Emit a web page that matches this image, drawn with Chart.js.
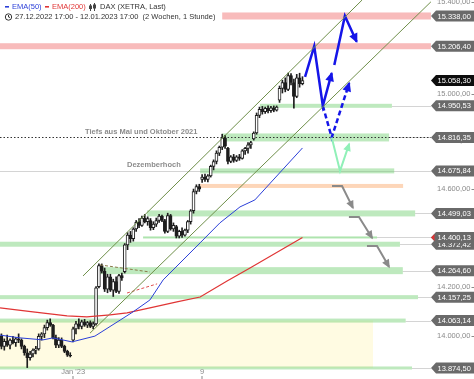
<!DOCTYPE html>
<html><head><meta charset="utf-8">
<script src="https://cdn.jsdelivr.net/npm/chart.js@4.4.1/dist/chart.umd.min.js"></script>
<style>html,body{margin:0;padding:0;background:#fff;overflow:hidden}#wrap{width:474px;height:379px;position:relative}</style>
</head><body><div id="wrap"><canvas id="c" width="474" height="379"></canvas></div>
<script>
// ---- hourly candles 27.12.2022 17:00 - 12.01.2023 17:00 (index 25 = 02.01. 09:00, index 70 = 09.01. 09:00)
const OPEN  = [14000,13960,13980,13965,13985,13975,13990,13985,13960,13935,13915,13930,13945,13950,14000,14010,14035,14055,14045,13995,13965,13985,13960,13940,13925,
               13985,14030,14050,14040,14058,14045,14055,14040,14050,14200,14285,14262,14190,14240,14185,14220,14180,14245,
               14260,14370,14410,14395,14435,14462,14450,14480,14465,14470,14440,14455,14470,14488,14470,14425,14490,14435,
               14445,14405,14425,14410,14430,14465,14510,14590,14610,
               14640,14650,14640,14655,14695,14715,14750,14775,14815,14770,14715,14735,14720,14735,14728,14760,14770,14785,
               14810,14835,14910,14935,14925,14940,14930,14942,14932,14975,15025,15050,15020,15080,15050,14990,15070,15045];
const HIGH  = [14010,13990,14005,13990,14000,13995,14010,13990,13965,13950,13940,13950,13960,14010,14015,14045,14065,14070,14048,14005,13995,13994,13965,13945,13935,
               14037,14060,14070,14065,14068,14060,14062,14058,14200,14292,14292,14275,14250,14250,14230,14240,14250,14255,
               14375,14420,14425,14440,14470,14478,14488,14495,14485,14478,14465,14480,14495,14492,14475,14500,14495,14460,
               14450,14430,14440,14435,14470,14515,14600,14618,14620,
               14660,14662,14660,14700,14722,14760,14780,14830,14825,14775,14740,14745,14740,14745,14765,14775,14795,14800,
               14840,14920,14945,14948,14945,14950,14948,14950,14950,15035,15060,15070,15090,15088,15065,15085,15090,15075];
const LOW   = [13950,13945,13960,13950,13970,13960,13975,13950,13925,13876,13905,13918,13930,13945,13985,13995,14025,14040,13990,13955,13955,13955,13935,13920,13918,
               13978,14010,14030,14030,14040,14035,14035,14030,14045,14195,14255,14180,14175,14180,14160,14175,14172,14225,
               14255,14350,14380,14385,14425,14440,14445,14460,14450,14430,14432,14445,14462,14465,14418,14420,14430,14425,
               14398,14398,14400,14405,14420,14455,14500,14580,14590,
               14628,14632,14630,14650,14680,14705,14740,14765,14770,14705,14710,14712,14715,14720,14725,14745,14750,14770,
               14805,14830,14900,14915,14918,14920,14922,14925,14928,14965,15005,15010,15015,15040,14940,14985,15030,15040];
const CLOSE = [13960,13980,13965,13985,13975,13990,13985,13960,13935,13915,13930,13945,13950,14000,14010,14035,14055,14045,13995,13965,13985,13960,13940,13925,13922,
               14030,14050,14040,14058,14045,14055,14040,14050,14195,14285,14262,14190,14240,14185,14220,14180,14245,14235,
               14370,14410,14395,14435,14462,14450,14480,14465,14478,14440,14455,14470,14488,14470,14425,14490,14435,14450,
               14405,14425,14410,14430,14465,14510,14590,14610,14600,
               14650,14640,14655,14695,14715,14750,14775,14815,14780,14715,14735,14720,14735,14728,14760,14770,14785,14795,
               14835,14910,14935,14925,14940,14930,14942,14932,14945,15025,15050,15020,15080,15050,14990,15070,15045,15058.30];

// ---- moving averages (candle index, value)
const EMA50_X  = [-0.5, 6.5, 14.5, 18, 24.6, 32.6, 41.4, 45.9, 51.8, 56.4, 69.3, 76.2, 83.2, 88.4, 105];
const EMA50_Y  = [14005,13994,13986,13994,13978,14001,14065,14098,14146,14227,14378,14460,14526,14555,14772];
const EMA200_X = [-0.5, 11, 22.9, 29.8, 37.9, 43.8, 51.8, 61.2, 69.3, 78.7, 86.7, 105];
const EMA200_Y = [14114,14098,14082,14078,14086,14094,14114,14138,14158,14223,14275,14400.13];

// ---- trend channel and drawings (candle index, price)
const CHANNEL_UP   = [[28.45,14243],[125.8,15408]];
const CHANNEL_LOW  = [[30.9,14013],[149.8,15400]];
const FLAG_TOP     = [[34.4,14288],[51.8,14259]];
const EMA_DASH     = [[43.8,14174],[54.3,14211]];
const PATH_BLUE_1  = [[105.9,15074],[109.1,15206.4],[112.1,14950.53],[115.2,15090]];
const PATH_BLUE_2  = [[116.1,15125],[119.8,15338],[123.9,15226]];
const PATH_DASHED  = [[112.1,14950.53],[115.2,14816.35],[121.3,15047]];
const PATH_GREEN   = [[115.2,14816.35],[118.1,14675.84],[121.3,14789]];
const PATH_GRAY_1  = [[115.3,14613],[118.8,14613],[122.6,14522]];
const PATH_GRAY_2  = [[121.2,14484],[124.7,14484],[129.3,14398]];
const PATH_GRAY_3  = [[127.5,14365],[131,14365],[135.2,14280]];

// ---- horizontal zones
const LEVELS     = [15338.00,15206.40,14950.53,14816.35,14675.84,14613.00,14499.03,14400.13,14372.42,14264.60,14157.25,14063.14,13874.50];
const LEVEL_KIND = ['res','res','sup','sup','sup','orange','sup','supthin','sup','sup','sup','sup','sup'];
const LEVEL_FROM = [77,-0.5,90.2,76.9,69.3,69.3,50.8,49.4,-0.5,34.4,-0.5,-0.5,-0.5];
const LEVEL_TO   = [149.8,149.8,136.2,135.2,137,140.1,144.3,131,139,140,145.3,141,143.2];
const ZONE_LOW = 13874.50, ZONE_HIGH = 14063.14, ZONE_TO = 129.6;
const TEXT_LOW  = 'Tiefs aus Mai und Oktober 2021';
const TEXT_DEC  = 'Dezemberhoch';

// ---- axis labels
const PRICE_LABELS = [15338.00,15206.40,15058.30,14950.53,14816.35,14675.84,14499.03,14372.42,14400.13,14264.60,14157.25,14063.14,13874.50];
const LAST_PRICE = 15058.30, EMA200_LAST = 14400.13;
const Y_TICKS = [15400,15200,15000,14800,14600,14400,14200,14000];
const X_TICK_POS = [25, 70];
const X_TICK_TEXT = ["Jan '23", "9"];

const FONT = '"Liberation Sans", Arial, sans-serif';
function fmt(v){ const s=v.toFixed(2).split('.'); return s[0].replace(/\B(?=(\d{3})+(?!\d))/g,'.')+','+s[1]; }
const pts = a => a.map(p => ({x:p[0], y:p[1]}));
const IDX = OPEN.map((_,i)=>i);

function line(data, color, width, extra){
  return Object.assign({type:'line', data, borderColor:color, borderWidth:width, pointRadius:0, tension:0, fill:false, order:1}, extra||{});
}

const bandPlugin = {
  id:'bands',
  beforeDatasetsDraw(chart){
    const {ctx, chartArea:ca, scales:{x,y}} = chart;
    ctx.save();
    ctx.beginPath(); ctx.rect(ca.left, ca.top, ca.right-ca.left, ca.bottom-ca.top); ctx.clip();
    ctx.fillStyle = '#fffbe2';
    const zt = y.getPixelForValue(ZONE_HIGH), zb = y.getPixelForValue(ZONE_LOW);
    ctx.fillRect(x.getPixelForValue(-0.5), zt, x.getPixelForValue(ZONE_TO)-x.getPixelForValue(-0.5), zb-zt);
    const C = {res:'rgba(244,145,145,0.62)', sup:'rgba(120,210,120,0.48)', orange:'rgba(252,196,155,0.7)', supthin:'rgba(120,210,120,0.6)'};
    const TH = [7,6,4,8,5,4,6,2,5,7,4,4,3];
    LEVELS.forEach((v,k)=>{
      const py = y.getPixelForValue(v);
      const x0 = x.getPixelForValue(LEVEL_FROM[k]), x1 = x.getPixelForValue(LEVEL_TO[k]);
      ctx.fillStyle = '#d4d4d4';
      if (k===4) ctx.fillRect(ca.left, Math.round(py), ca.right-ca.left, 1);
      else if (LEVEL_KIND[k] !== 'orange') ctx.fillRect(x1, Math.round(py), ca.right-x1, 1);
      ctx.fillStyle = C[LEVEL_KIND[k]];
      const h = TH[k];
      ctx.fillRect(x0, py-h/2, x1-x0, h);
    });
    const pd = Math.round(y.getPixelForValue(14816.35))+0.5;
    ctx.strokeStyle = '#333'; ctx.lineWidth = 1.2; ctx.setLineDash([1.5,2]);
    ctx.beginPath(); ctx.moveTo(ca.left, pd); ctx.lineTo(ca.right, pd); ctx.stroke();
    ctx.setLineDash([]);
    ctx.font = 'bold 7.5px '+FONT; ctx.fillStyle = '#8c8c8c'; ctx.textBaseline='middle'; ctx.textAlign='left';
    ctx.fillText(TEXT_LOW, 85, pd-6);
    ctx.fillText(TEXT_DEC, 127, y.getPixelForValue(14675.84)-5.5);
    ctx.restore();
  }
};

const overlayPlugin = {
  id:'overlay',
  afterDatasetsDraw(chart){
    const ctx = chart.ctx;
    chart.data.datasets.forEach((ds,k)=>{
      if(!ds.arrowHead) return;
      const d = chart.getDatasetMeta(k).data;
      const a = d[d.length-2], b = d[d.length-1];
      const ang = Math.atan2(b.y-a.y, b.x-a.x);
      const L = ds.arrowHead, W = L*0.55;
      const cx = b.x - Math.cos(ang)*L, cy = b.y - Math.sin(ang)*L;
      ctx.save();
      ctx.fillStyle = ds.borderColor;
      ctx.beginPath();
      ctx.moveTo(b.x+Math.cos(ang)*1.5, b.y+Math.sin(ang)*1.5);
      ctx.lineTo(cx + Math.sin(ang)*W, cy - Math.cos(ang)*W);
      ctx.lineTo(cx - Math.sin(ang)*W, cy + Math.cos(ang)*W);
      ctx.closePath(); ctx.fill();
      ctx.restore();
    });
  },
  afterDraw(chart){
    const {ctx, scales:{x,y}} = chart;
    ctx.save();
    ctx.textBaseline = 'middle'; ctx.textAlign='left';
    ctx.font = '7.5px '+FONT;
    Y_TICKS.forEach(v=>{
      const py = y.getPixelForValue(v);
      ctx.fillStyle = '#8a8a8a';
      ctx.fillText(fmt(v), 437, py);
      ctx.fillRect(471.5, Math.round(py), 2.5, 1);
    });
    PRICE_LABELS.forEach(v=>{
      const py = y.getPixelForValue(v);
      ctx.fillStyle = (v===LAST_PRICE) ? '#0d0d0d' : '#6a6a6a';
      ctx.beginPath();
      ctx.moveTo(431, py); ctx.lineTo(436, py-5.5); ctx.lineTo(474, py-5.5); ctx.lineTo(474, py+5.5); ctx.lineTo(436, py+5.5); ctx.closePath(); ctx.fill();
      if (v===EMA200_LAST){ ctx.fillStyle='#e03535'; ctx.beginPath(); ctx.moveTo(431,py); ctx.lineTo(434.5,py-3.5); ctx.lineTo(434.5,py+3.5); ctx.closePath(); ctx.fill(); }
      ctx.fillStyle = '#ffffff';
      ctx.fillText(fmt(v), 437.5, py+0.5);
    });
    ctx.textAlign='center'; ctx.fillStyle='#8a8a8a';
    X_TICK_POS.forEach((p,k)=>{
      const px = x.getPixelForValue(p);
      ctx.fillText(X_TICK_TEXT[k], px, 372);
      ctx.fillRect(Math.round(px)-0.5, 376, 1, 3);
    });
    ctx.textAlign='left';
    ctx.fillStyle='#2b3fd8'; ctx.fillRect(5,6,4,1.6);
    ctx.fillText('EMA(50)', 12, 7);
    ctx.fillStyle='#e03535'; ctx.fillRect(45,6,4,1.6);
    ctx.fillText('EMA(200)', 52, 7);
    ctx.fillStyle='#444';
    ctx.fillRect(90,4,1,7); ctx.fillRect(89,5.5,3,3.5);
    ctx.fillRect(94,3,1,8); ctx.fillRect(93,4.5,3,4);
    ctx.fillStyle='#333';
    ctx.fillText('DAX (XETRA, Last)', 100, 7);
    ctx.strokeStyle='#333'; ctx.lineWidth=1;
    ctx.beginPath(); ctx.arc(8.5,17,3.2,0,Math.PI*2); ctx.stroke();
    ctx.beginPath(); ctx.moveTo(8.5,15); ctx.lineTo(8.5,17); ctx.lineTo(10,17.5); ctx.stroke();
    ctx.fillText('27.12.2022 17:00 - 12.01.2023 17:00  (2 Wochen, 1 Stunde)', 15, 17);
    ctx.restore();
  }
};

new Chart(document.getElementById('c'), {
  type:'bar',
  data:{ datasets:[
    {type:'bar', data: IDX.map(i=>({x:i, y:[LOW[i],HIGH[i]]})), backgroundColor:'#1e1e1e', barThickness:1, grouped:false, order:6},
    {type:'bar', data: IDX.map(i=>({x:i, y:[Math.min(OPEN[i],CLOSE[i]), Math.max(OPEN[i],CLOSE[i])]})),
      backgroundColor: IDX.map(i=> CLOSE[i]>=OPEN[i] ? '#ffffff' : '#1e1e1e'),
      borderColor:'#1e1e1e', borderWidth:1, borderSkipped:false, barThickness:3, grouped:false, order:5},
    line(EMA50_X.map((v,i)=>({x:v, y:EMA50_Y[i]})), '#2b3fd8', 1),
    line(EMA200_X.map((v,i)=>({x:v, y:EMA200_Y[i]})), '#e03535', 1.2),
    line(pts(CHANNEL_UP), '#6f8f4a', 1),
    line(pts(CHANNEL_LOW), '#6f8f4a', 1),
    line(pts(FLAG_TOP), '#8a7a4a', 1, {borderDash:[3,2]}),
    line(pts(EMA_DASH), '#e05050', 1, {borderDash:[3,2]}),
    line(pts(PATH_GRAY_1), '#8a8a8a', 2, {arrowHead:7}),
    line(pts(PATH_GRAY_2), '#8a8a8a', 2, {arrowHead:7}),
    line(pts(PATH_GRAY_3), '#8a8a8a', 2, {arrowHead:7}),
    line(pts(PATH_GREEN), '#90f0b8', 2, {arrowHead:7}),
    line(pts(PATH_DASHED), '#1515e8', 2.5, {borderDash:[5,3], arrowHead:8}),
    line(pts(PATH_BLUE_1), '#1515e8', 2.5, {arrowHead:8}),
    line(pts(PATH_BLUE_2), '#1515e8', 2.5, {arrowHead:8})
  ]},
  options:{
    responsive:false, animation:false, devicePixelRatio:1,
    layout:{padding:{left:0,right:43,top:0,bottom:0}},
    plugins:{legend:{display:false}, tooltip:{enabled:false}},
    scales:{
      x:{type:'linear', min:-0.5, max:149.83, display:false, offset:false, grid:{offset:false}},
      y:{type:'logarithmic', min:13831, max:15408, display:false, beginAtZero:false}
    }
  },
  plugins:[bandPlugin, overlayPlugin]
});
</script></body></html>
